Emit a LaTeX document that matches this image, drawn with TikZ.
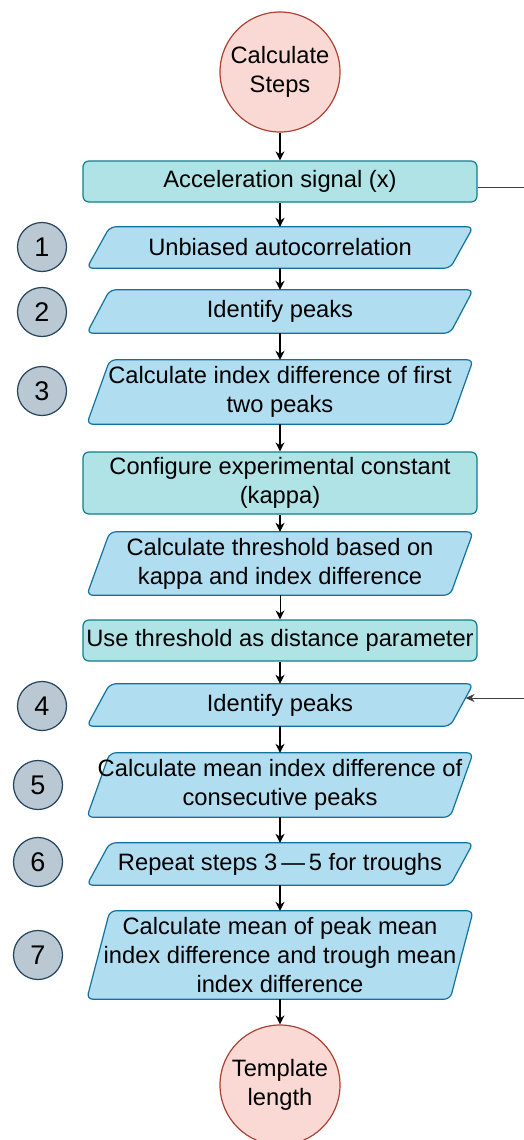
\documentclass[tikz,border=0pt]{standalone}
\usepackage{fontspec}
\setmainfont{Liberation Sans}
\usetikzlibrary{arrows.meta,backgrounds,calc}
\definecolor{tealfill}{HTML}{B0E3E6}
\definecolor{tealdraw}{HTML}{0E8088}
\definecolor{bluefill}{HTML}{B1DDF0}
\definecolor{bluedraw}{HTML}{10739E}
\definecolor{redfill}{HTML}{FAD9D5}
\definecolor{reddraw}{HTML}{AE4132}
\definecolor{grayfill}{HTML}{BAC8D3}
\definecolor{graydraw}{HTML}{23445D}
\tikzset{
  txt/.style={font=\fontsize{23.7}{29}\selectfont, align=center, text=black},
  term/.style={txt, circle, draw=reddraw, fill=redfill, line width=1.2pt, minimum size=120pt, inner sep=0pt},
  rectbox/.style={txt, draw=tealdraw, fill=tealfill, line width=1.2pt, rounded corners=6pt, minimum width=394pt, inner sep=0pt},
  ptext/.style={txt, minimum width=386pt, inner sep=0pt},
  pshape/.style={draw=bluedraw, fill=bluefill, line width=1.2pt, rounded corners=6pt},
  num/.style={circle, draw=graydraw, fill=grayfill, line width=1.2pt, minimum size=49pt, inner sep=0pt, font=\fontsize{27}{30}\selectfont},
  arr/.style={draw=black, line width=1.4pt, -{Stealth[length=9pt,width=9pt]}},
  side/.style={draw=black!75, line width=1pt},
}
\newcommand{\para}[4]{%
  \node[ptext, minimum height=#3pt] (#1) at (280,#2) {#4};
  \begin{pgfonlayer}{background}
  \path[pshape] ([xshift=23pt]#1.north west) -- (#1.north east) -- ([xshift=-23pt]#1.south east) -- (#1.south west) -- cycle;
  \end{pgfonlayer}
}
\begin{document}
\begin{tikzpicture}[x=1pt,y=-1pt]
\begin{pgfonlayer}{background}
\fill[white] (0,0) rectangle (524,1140);
\end{pgfonlayer}
\useasboundingbox (0,0) rectangle (524,1140);

\node[term] (start) at (280,72) {Calculate\\Steps};
\node[rectbox, minimum height=41pt] (acc) at (280,181.5) {Acceleration signal (x)};
\para{p1}{247.5}{41}{Unbiased autocorrelation}
\para{p2}{311.5}{43}{Identify peaks}
\para{p3}{392}{64}{Calculate index difference of first\\two peaks}
\node[rectbox, minimum height=62pt] (kappa) at (280,483) {Configure experimental constant\\(kappa)};
\para{thr}{563.5}{63}{Calculate threshold based on\\kappa and index difference}
\node[rectbox, minimum height=41pt] (dist) at (280,640.5) {Use threshold as distance parameter};
\para{p4}{705}{42}{Identify peaks}
\para{p5}{785}{64}{Calculate mean index difference of\\consecutive peaks}
\para{p6}{864}{42}{Repeat steps 3\,—\,5 for troughs}
\para{p7}{955}{88}{Calculate mean of peak mean\\index difference and trough mean\\index difference}
\node[term] (end) at (280,1085) {Template\\length};

\node[num] (n1) at (42,247) {1};
\node[num] (n2) at (42,312) {2};
\node[num] (n3) at (42,391) {3};
\node[num] (n4) at (42,706) {4};
\node[num] (n5) at (38,785) {5};
\node[num] (n6) at (38,862) {6};
\node[num] (n7) at (38,955) {7};

\draw[arr] (start) -- (acc);
\draw[arr] (acc) -- (p1);
\draw[arr] (p1) -- (p2);
\draw[arr] (p2) -- (p3);
\draw[arr] (p3) -- (kappa);
\draw[arr] (kappa) -- (thr);
\draw[arr, line width=1pt] (thr) -- (dist);
\draw[arr] (dist) -- (p4);
\draw[arr] (p4) -- (p5);
\draw[arr] (p5) -- (p6);
\draw[arr] (p6) -- (p7);
\draw[arr] (p7) -- (end);

\coordinate (accout) at (524,187);
\draw[side] (acc.east |- accout) -- (accout);
\coordinate (in4) at (524,698);
\coordinate (p4r) at ($(p4.north east)!0.333!([xshift=-23pt]p4.south east)$);
\draw[side, -{Stealth[length=9pt,width=8pt]}] (in4) -- (in4 -| p4r);
\end{tikzpicture}
\end{document}
